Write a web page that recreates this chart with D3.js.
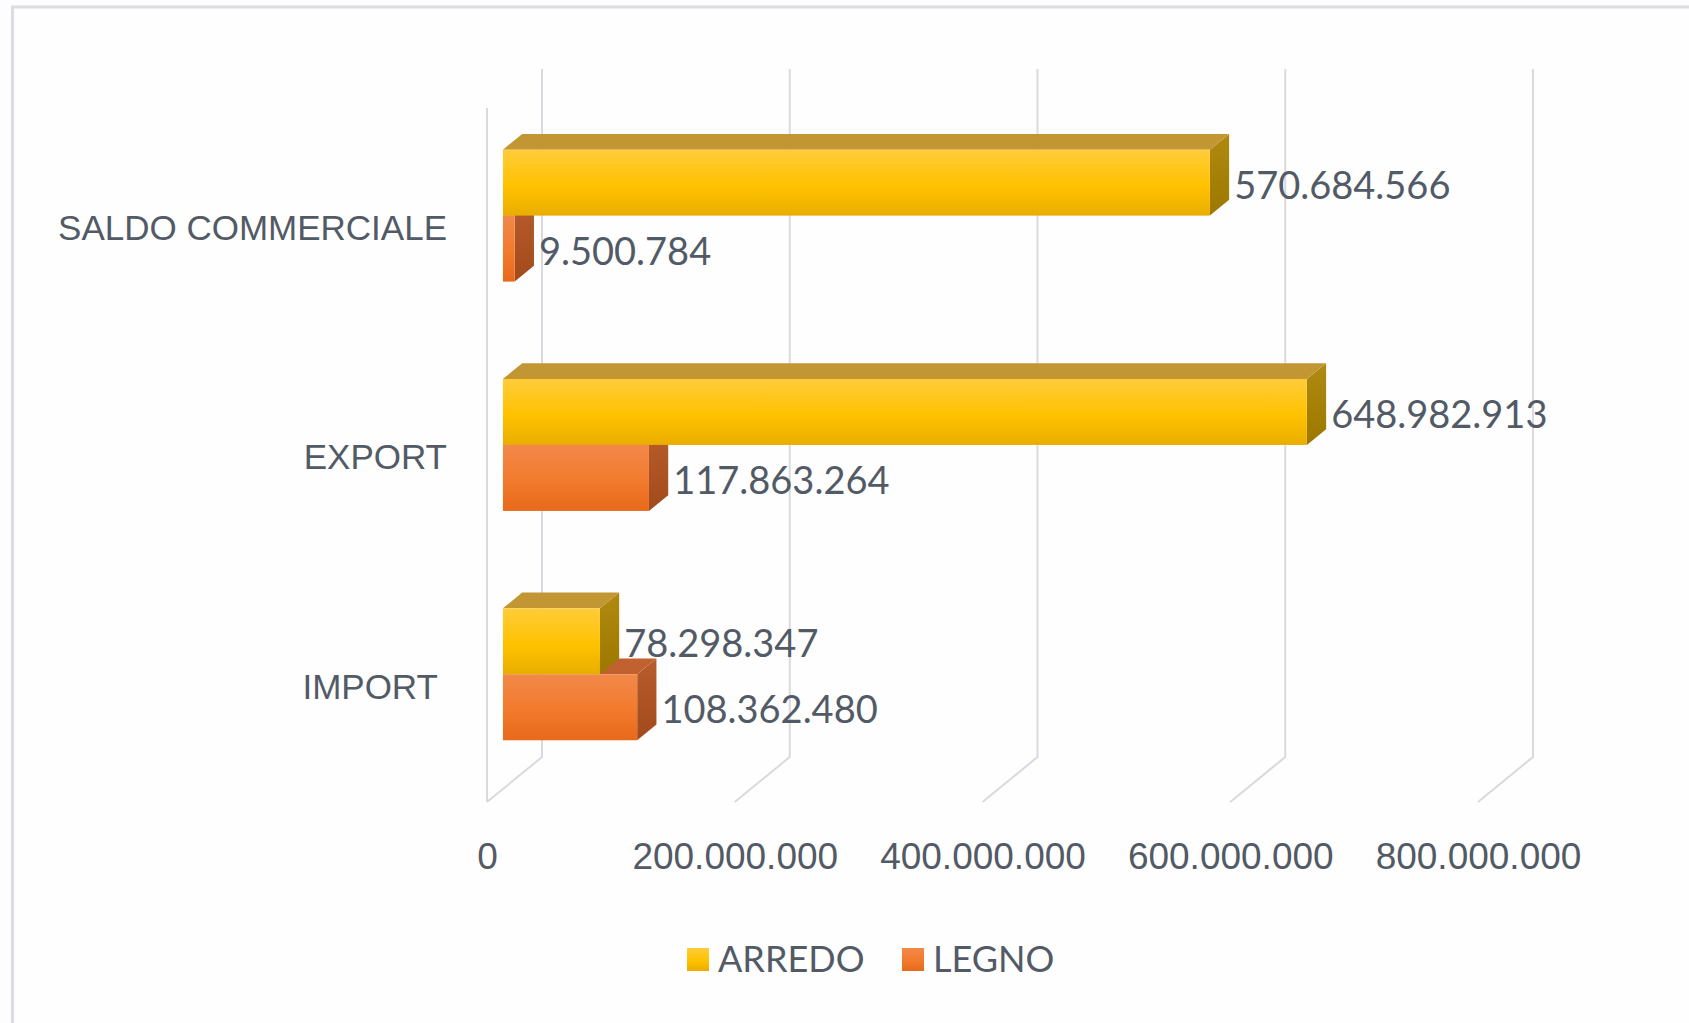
<!DOCTYPE html>
<html>
<head>
<meta charset="utf-8">
<script src="https://cdn.jsdelivr.net/npm/d3@7"></script>
<style>
  html, body { margin: 0; padding: 0; background: #fdfdfd; }
  svg { display: block; font-family: Lato, "Open Sans", sans-serif; }
  .lbl { fill: #525a66; white-space: pre; }
</style>
</head>
<body>
<div id="chart"></div>
<script>
// data
var categories = ["SALDO COMMERCIALE", "EXPORT", "IMPORT "];
var seriesNames = ["ARREDO", "LEGNO"];
var arredoValues = [570684566, 648982913, 78298347];
var legnoValues = [9500784, 117863264, 108362480];
var xTickValues = [0, 200000000, 400000000, 600000000, 800000000];

var W = 1689, H = 1023;
var DEPTH = [55, -45];          // front of floor -> back wall
var BAR_FRONT = 0.29, BAR_BACK = 0.64;

var svg = d3.select("#chart").append("svg")
  .attr("width", W).attr("height", H);

var fmt = d3.formatLocale({decimal: ",", thousands: ".", grouping: [3], currency: ["", "€"]}).format(",d");

// scales on the front plane
var x = d3.scaleLinear().domain([0, 800000000]).range([487, 1478]);
var y = d3.scaleBand().domain(categories).range([114, 802]);
var ySub = d3.scaleBand().domain(seriesNames).range([0, y.bandwidth()])
  .paddingInner(0).paddingOuter(0.738);

var defs = svg.append("defs");
function grad(id, stops) {
  var g = defs.append("linearGradient").attr("id", id)
    .attr("x1", 0).attr("y1", 0).attr("x2", 0).attr("y2", 1);
  stops.forEach(function(s) {
    g.append("stop").attr("offset", s[0]).attr("stop-color", s[1]);
  });
}
grad("gArredo", [[0, "#ffcc3a"], [0.55, "#ffc200"], [1, "#e9ad00"]]);
grad("gArredoSide", [[0, "#b08a10"], [1, "#9c7800"]]);
grad("gLegno", [[0, "#f2884a"], [0.55, "#f27a2c"], [1, "#e8691b"]]);
grad("gLegnoSide", [[0, "#b85c2c"], [1, "#a24a1c"]]);

var colors = {
  ARREDO: {front: "url(#gArredo)", top: "#c29632", side: "url(#gArredoSide)"},
  LEGNO: {front: "url(#gLegno)", top: "#c0612f", side: "url(#gLegnoSide)"}
};

// chart border (only top/left visible in the crop)
svg.append("rect")
  .attr("x", 12.5).attr("y", 7).attr("width", 1700).attr("height", 1100)
  .attr("fill", "#fefefe").attr("stroke", "#dcdce3").attr("stroke-width", 3);

var yTop = y.range()[0], yBot = y.range()[1];

// gridlines: back wall + floor diagonal
var grid = svg.append("g").attr("class", "grid")
  .attr("fill", "none").attr("stroke", "#d9d9df").attr("stroke-width", 2);

xTickValues.forEach(function(t) {
  var xb = x(t) + DEPTH[0];
  grid.append("path")
    .attr("d", "M" + xb + "," + (yTop + DEPTH[1]) +
               "L" + xb + "," + (yBot + DEPTH[1]) +
               "L" + x(t) + "," + yBot);
});
// left wall front edge
grid.append("path").attr("d", "M" + x(0) + "," + (yTop - 6) + "L" + x(0) + "," + yBot);

// bars
var rows = [];
categories.forEach(function(c, i) {
  rows.push({cat: c, key: "LEGNO", val: legnoValues[i]});
  rows.push({cat: c, key: "ARREDO", val: arredoValues[i]});
});

var fdx = DEPTH[0] * BAR_FRONT, fdy = DEPTH[1] * BAR_FRONT;
var bdx = DEPTH[0] * (BAR_BACK - BAR_FRONT), bdy = DEPTH[1] * (BAR_BACK - BAR_FRONT);

function pts(a) { return a.map(function(p) { return p.join(","); }).join(" "); }

var bars = svg.append("g").attr("class", "bars")
  .selectAll("g").data(rows).enter().append("g");

bars.each(function(d) {
  var g = d3.select(this);
  var x0 = x(0) + fdx, x1 = x(d.val) + fdx;
  var y0 = y(d.cat) + ySub(d.key) + fdy, y1 = y0 + ySub.bandwidth();
  var c = colors[d.key];
  // right face
  g.append("polygon").attr("fill", c.side)
    .attr("points", pts([[x1, y0], [x1 + bdx, y0 + bdy], [x1 + bdx, y1 + bdy], [x1, y1]]));
  // top face
  g.append("polygon").attr("fill", c.top)
    .attr("points", pts([[x0, y0], [x0 + bdx, y0 + bdy], [x1 + bdx, y0 + bdy], [x1, y0]]));
  // front face
  g.append("rect").attr("fill", c.front)
    .attr("x", x0).attr("y", y0).attr("width", x1 - x0).attr("height", y1 - y0);
  // value label
  g.append("text").attr("class", "lbl")
    .attr("x", x1 + bdx + 5)
    .attr("y", (y0 + y1) / 2 + 16)
    .attr("font-size", 38)
    .text(fmt(d.val));
});

// value axis on the floor front edge
var xAxis = svg.append("g")
  .attr("transform", "translate(0," + yBot + ")")
  .call(d3.axisBottom(x).tickValues(xTickValues).tickFormat(fmt).tickSize(0).tickPadding(41));
xAxis.select(".domain").remove();
xAxis.selectAll("text").attr("class", "lbl").attr("fill", null)
  .attr("font-size", 37).attr("font-family", null);

// category axis
var yAxis = svg.append("g")
  .attr("transform", "translate(" + x(0) + ",0)")
  .call(d3.axisLeft(y).tickSize(0).tickPadding(40));
yAxis.select(".domain").remove();
yAxis.selectAll("text").attr("class", "lbl").attr("fill", null)
  .attr("font-size", 35).attr("font-family", null);

// legend
var legend = svg.append("g").attr("class", "legend");
var legendX = [687, 902];
seriesNames.forEach(function(s, i) {
  legend.append("rect")
    .attr("x", legendX[i]).attr("y", 948).attr("width", 22).attr("height", 23)
    .attr("fill", colors[s].front);
  legend.append("text").attr("class", "lbl")
    .attr("x", legendX[i] + 31).attr("y", 972)
    .attr("font-size", 36)
    .text(s);
});
</script>
</body>
</html>
